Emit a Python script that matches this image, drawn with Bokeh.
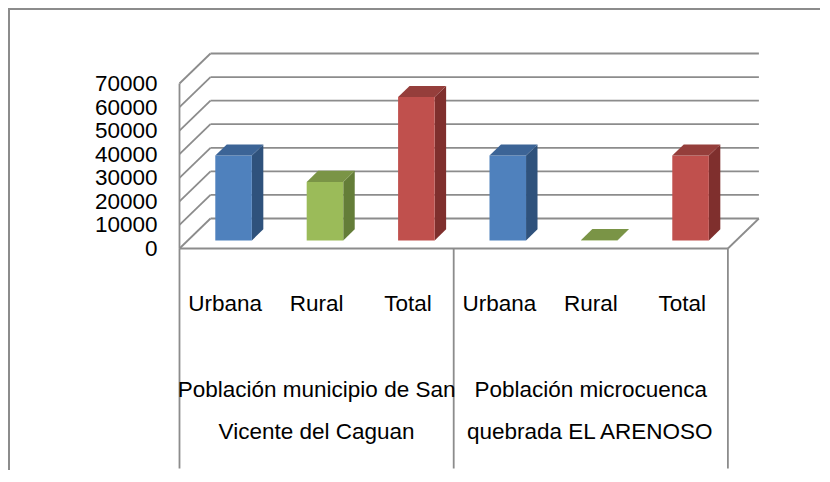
from bokeh.plotting import figure
from bokeh.models import Range1d, FixedTicker
from bokeh.core.properties import value
from bokeh.embed import file_html
from bokeh.resources import INLINE

# ---------------- data ----------------
groups = ["Población municipio de San\nVicente del Caguan",
          "Población microcuenca\nquebrada EL ARENOSO"]
subcats = ["Urbana", "Rural", "Total"]
san_vicente = [36000, 24800, 60800]
el_arenoso = [36000, 100, 36000]
y_ticks = [0, 10000, 20000, 30000, 40000, 50000, 60000, 70000]

# ---------------- styles ----------------
FRONT = ["#4F81BD", "#9BBB59", "#C0504D"]
TOP = ["#3C6496", "#7A9446", "#953E3B"]
SIDE = ["#2F527C", "#647D38", "#7F2F2D"]
GRID = "#8c8c8c"
FONT = "Liberation Sans"
FS = "22.5px"

# ---------------- layout (picture pixels) ----------------
X0_PX = 179.0          # start of category axis
SLOT_PX = 91.4         # width of one category slot
Y0_PX = 248.0          # value 0 on the front plane
PPU = 165.0 / 70000.0  # pixels per value unit
DEPTH_X_PX, DEPTH_Y_PX = 31.0, 30.0
CANVAS_X, CANVAS_Y = 10, 10
W, H = 812, 462
MB_LEFT = 162
FL, FR = CANVAS_X + MB_LEFT, CANVAS_X + W
FT, FB = CANVAS_Y, CANVAS_Y + H

def px_to_y(py):
    return (Y0_PX - py) / PPU

x_start = (FL - X0_PX) / SLOT_PX
x_end = (FR - X0_PX) / SLOT_PX

p = figure(width=W, height=H, output_backend="svg", toolbar_location=None, tools="",
           x_range=Range1d(x_start, x_end),
           y_range=Range1d(px_to_y(FB), px_to_y(FT)),
           x_axis_type=None, min_border=0, min_border_left=MB_LEFT)
p.toolbar.logo = None
p.title = None
p.styles = {"margin-left": "10px", "margin-top": "10px",
            "box-shadow": "-2px -2px 0px 0px #8c8c8c"}
p.outline_line_color = None
p.ygrid.visible = False
p.background_fill_color = "white"
p.border_fill_color = "white"

yax = p.yaxis[0]
yax.ticker = FixedTicker(ticks=y_ticks)
yax.axis_line_color = None
yax.major_tick_line_color = None
yax.minor_tick_line_color = None
yax.major_tick_out = 0
yax.major_label_standoff = FL - 157
yax.major_label_text_font = FONT
yax.major_label_text_font_size = FS
yax.major_label_text_color = "#000000"

DX = DEPTH_X_PX / SLOT_PX
DY = DEPTH_Y_PX / PPU
n = len(groups) * len(subcats)
ymax = y_ticks[-1]

# walls & gridlines
xs, ys = [], []
for t in y_ticks:
    xs.append([DX, n + DX]); ys.append([t + DY, t + DY])   # back wall
    xs.append([0, DX]); ys.append([t, t + DY])             # left wall
xs.append([0, 0]); ys.append([0, ymax])                    # front-left edge
xs.append([0, n]); ys.append([0, 0])                       # floor front edge
xs.append([n, n + DX]); ys.append([0, DY])                 # floor right edge
sep_bottom = px_to_y(468)
for k in range(len(groups) + 1):
    xs.append([k * len(subcats)] * 2); ys.append([0, sep_bottom])
p.multi_line(xs, ys, line_color=GRID, line_width=1.8)

# bars
D1, D2, HW = 0.27, 0.64, 0.2
bx, by = (D2 - D1) * DX, (D2 - D1) * DY
vals = san_vicente + el_arenoso
fx, fy, fc, sx, sy, sc, tx, ty, tc = [], [], [], [], [], [], [], [], []
for i, v in enumerate(vals):
    ci = i % len(subcats)
    c = i + 0.5
    xl, xr = c - HW + D1 * DX, c + HW + D1 * DX
    yb, yt = D1 * DY, v + D1 * DY
    fx.append([xl, xr, xr, xl]); fy.append([yb, yb, yt, yt]); fc.append(FRONT[ci])
    sx.append([xr, xr + bx, xr + bx, xr]); sy.append([yb, yb + by, yt + by, yt]); sc.append(SIDE[ci])
    tx.append([xl, xr, xr + bx, xl + bx]); ty.append([yt, yt, yt + by, yt + by]); tc.append(TOP[ci])
p.patches(sx, sy, fill_color=sc, line_color=None)
p.patches(fx, fy, fill_color=fc, line_color=None)
p.patches(tx, ty, fill_color=tc, line_color=None)

# category labels
lab_x = [i + 0.5 for i in range(n)]
lab_t = subcats * len(groups)
p.text(lab_x, [px_to_y(303)] * n, text=lab_t, text_align="center", text_baseline="middle",
       text_font=value(FONT), text_font_size=FS, text_color="#000000")
gx, gy, gt = [], [], []
for g, name in enumerate(groups):
    for li, line in enumerate(name.split("\n")):
        gx.append(g * len(subcats) + len(subcats) / 2)
        gy.append(px_to_y(389 + 42 * li))
        gt.append(line)
p.text(gx, gy, text=gt, text_align="center", text_baseline="middle",
       text_font=value(FONT), text_font_size=FS, text_color="#000000")

open("out.html", "w").write(file_html(p, INLINE))
